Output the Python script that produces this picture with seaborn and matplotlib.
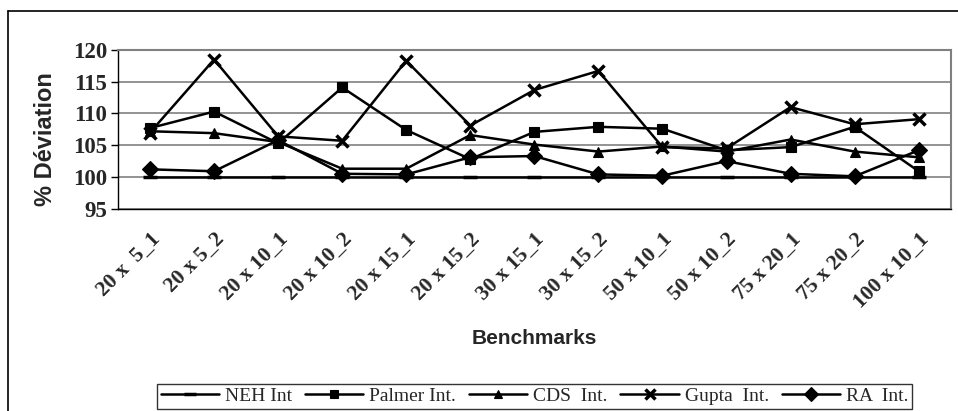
import pandas as pd
import matplotlib.pyplot as plt
import seaborn as sns
from matplotlib.lines import Line2D
from matplotlib.ticker import FixedLocator

# Data
benchmarks = ["20 x  5_1", "20 x 5_2", "20 x 10_1", "20 x 10_2", "20 x 15_1",
              "20 x 15_2", "30 x 15_1", "30 x 15_2", "50 x 10_1", "50 x 10_2",
              "75 x 20_1", "75 x 20_2", "100 x 10_1"]
neh = [100.0, 100.0, 100.0, 100.0, 100.0, 100.0, 100.0, 100.0, 100.0, 100.0, 100.0, 100.0, 100.0]
palmer = [107.7, 110.3, 105.3, 114.1, 107.4, 102.8, 107.1, 107.9, 107.6, 104.2, 104.7, 107.9, 100.9]
cds = [107.2, 106.9, 105.5, 101.3, 101.3, 106.6, 105.1, 104.0, 104.8, 104.0, 105.9, 104.0, 103.1]
gupta = [107.0, 118.5, 106.4, 105.7, 118.3, 108.1, 113.7, 116.7, 104.7, 104.5, 111.0, 108.3, 109.1]
ra = [101.2, 100.9, 105.8, 100.5, 100.4, 103.1, 103.3, 100.4, 100.2, 102.5, 100.5, 100.1, 104.2]
series_names = ["NEH Int", "Palmer Int.", "CDS  Int.", "Gupta  Int.", "RA  Int."]
yticks = [95, 100, 105, 110, 115, 120]

series = [neh, palmer, cds, gupta, ra]
markers = ["_", "s", "^", "x", "D"]
msizes = [10, 7.5, 7.5, 8.5, 8.5]

sns.set_style("white")
plt.rcParams["font.family"] = ["Liberation Serif", "DejaVu Serif"]

fig = plt.figure(figsize=(9.58, 4.11), dpi=100)
ax = fig.add_axes([118 / 958, 1 - 208.7 / 411, 832.7 / 958, 158.7 / 411])

pos = list(range(len(benchmarks)))
for name, vals, mk, ms in zip(series_names, series, markers, msizes):
    df = pd.DataFrame({"x": pos, "y": vals})
    sns.lineplot(data=df, x="x", y="y", ax=ax, color="black", linewidth=1.8,
                 marker=mk, markersize=ms, markeredgewidth=2.5 if mk in "_x" else 0.8,
                 markeredgecolor="black", markerfacecolor="black", legend=False)

ax.set_xlim(-0.5, len(benchmarks) - 0.5)
ax.set_ylim(95, 120)
ax.set_yticks(yticks)
ax.set_yticklabels([str(t) for t in yticks], fontweight="bold", fontsize=16.5)
ax.yaxis.grid(True, color="#808080", linewidth=1.2)
ax.xaxis.grid(False)

ax.set_xticks(pos)
ax.set_xticklabels(benchmarks, rotation=45, ha="right", va="top",
                   rotation_mode="anchor", fontweight="bold", fontsize=15.5)
ax.xaxis.set_minor_locator(FixedLocator([p - 0.5 for p in pos] + [len(pos) - 0.5]))
ax.tick_params(axis="x", which="major", length=0, pad=15)
ax.tick_params(axis="x", which="minor", length=5, width=1, color="black", direction="out")
ax.tick_params(axis="y", length=5, width=1, color="black", direction="out", pad=3, left=True)

for side in ["top", "right"]:
    ax.spines[side].set_color("#808080")
    ax.spines[side].set_linewidth(1.5)
for side in ["left", "bottom"]:
    ax.spines[side].set_color("black")
    ax.spines[side].set_linewidth(1)

ax.set_xlabel("Benchmarks", family=["Liberation Sans"], fontweight="bold", fontsize=15)
ax.xaxis.set_label_coords(0.5, -0.76)
ax.set_ylabel("% Déviation", family=["Liberation Sans"], fontweight="bold", fontsize=17)
ax.yaxis.set_label_coords(-0.073, 0.44)

handles = [Line2D([], [], color="black", linewidth=1.8, marker=mk, markersize=ms * 0.85,
                  markeredgewidth=2.5 if mk in "_x" else 0.8)
           for mk, ms in zip(markers, msizes)]
leg = fig.legend(handles, series_names, ncol=5, loc="lower left",
                 bbox_to_anchor=(157 / 958, 1 - 409 / 411, (912 - 157) / 958, 33 / 411),
                 mode="expand", fontsize=14, frameon=True, fancybox=False,
                 handlelength=3, handletextpad=0.3, columnspacing=0.6, borderpad=0.2,
                 borderaxespad=0)
leg.get_frame().set_edgecolor("black")
leg.get_frame().set_linewidth(1)

# outer chart frame (extends past the right and bottom edges)
fig.add_artist(Line2D([8 / 958, 8 / 958], [0, 1 - 11 / 411], color="black", linewidth=1.2,
                      transform=fig.transFigure))
fig.add_artist(Line2D([8 / 958, 1], [1 - 11 / 411, 1 - 11 / 411], color="black", linewidth=1.2,
                      transform=fig.transFigure))

fig.savefig("out.png", dpi=100)
